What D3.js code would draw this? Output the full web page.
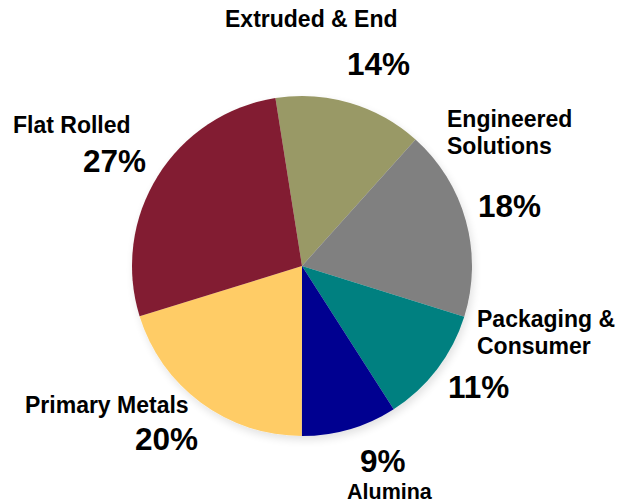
<!DOCTYPE html>
<html>
<head>
<meta charset="utf-8">
<script src="https://cdn.jsdelivr.net/npm/d3@7"></script>
<style>
  html, body { margin: 0; padding: 0; background: #ffffff; }
  svg { display: block; }
  text { font-family: "Liberation Sans", Arial, sans-serif; font-weight: bold; fill: #000; }
</style>
</head>
<body>
<svg id="chart" width="618" height="504"></svg>
<script>
// Segment share of revenue, clockwise from the top
const segments = ["Extruded & End", "Engineered Solutions", "Packaging & Consumer", "Alumina", "Primary Metals", "Flat Rolled"];
const shares   = [14, 18, 11, 9, 20, 27];
const colors   = ["#999966", "#808080", "#008080", "#000090", "#FFCC66", "#821D30"];

// Label placement: name lines, their anchor and size, percentage anchor
const nameLines = [["Extruded & End"], ["Engineered", "Solutions"], ["Packaging &", "Consumer"], ["Alumina"], ["Primary Metals"], ["Flat Rolled"]];
const namePos   = [[225, 27], [447, 127], [477, 327], [347, 499.3], [25, 413], [13, 133]];
const nameSize  = [23, 23, 23, 21.5, 23, 23];
const pctPos    = [[347, 75], [478, 217], [448, 398], [360, 472], [135, 450], [83, 172]];

const svg = d3.select("#chart");
const cx = 302, cy = 266, radius = 170;

const defs = svg.append("defs");
const shadow = defs.append("filter").attr("id", "soft").attr("x", "-20%").attr("y", "-20%").attr("width", "140%").attr("height", "140%");
shadow.append("feGaussianBlur").attr("in", "SourceAlpha").attr("stdDeviation", 4).attr("result", "b");
shadow.append("feOffset").attr("in", "b").attr("dx", 2).attr("dy", 4).attr("result", "o");
shadow.append("feComponentTransfer").attr("in", "o").attr("result", "s")
  .append("feFuncA").attr("type", "linear").attr("slope", 0.12);
const merge = shadow.append("feMerge");
merge.append("feMergeNode").attr("in", "s");
merge.append("feMergeNode").attr("in", "SourceGraphic");

const start = -9 * Math.PI / 180;
const pie = d3.pie().sort(null).value(d => d).startAngle(start).endAngle(start + 2 * Math.PI);
const arc = d3.arc().innerRadius(0).outerRadius(radius);
const color = d3.scaleOrdinal().domain(segments).range(colors);

const g = svg.append("g").attr("transform", `translate(${cx},${cy})`).attr("filter", "url(#soft)");
g.selectAll("path")
  .data(pie(shares))
  .join("path")
  .attr("d", arc)
  .attr("fill", (d, i) => color(segments[i]));

// Category names
segments.forEach((s, i) => {
  const t = svg.append("text")
    .attr("x", namePos[i][0])
    .attr("y", namePos[i][1])
    .style("font-size", nameSize[i] + "px");
  nameLines[i].forEach((line, j) => {
    t.append("tspan").attr("x", namePos[i][0]).attr("dy", j === 0 ? 0 : 26.5).text(line);
  });
});

// Percentages
shares.forEach((v, i) => {
  svg.append("text")
    .attr("x", pctPos[i][0])
    .attr("y", pctPos[i][1])
    .style("font-size", "31.5px")
    .text(v + "%");
});
</script>
</body>
</html>
